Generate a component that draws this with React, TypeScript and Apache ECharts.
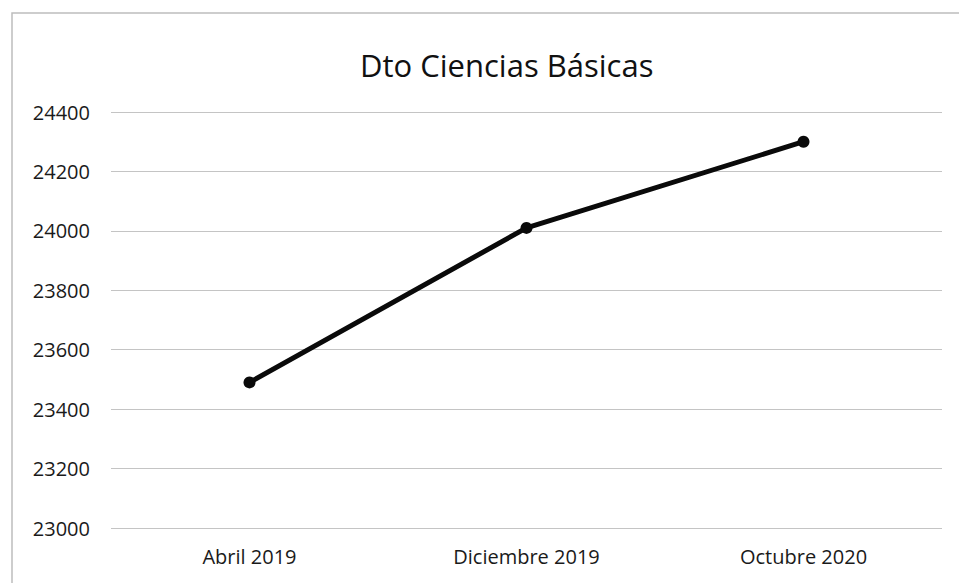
import React, { useEffect, useRef } from "react";
import * as echarts from "echarts";

const categories = ["Abril 2019", "Diciembre 2019", "Octubre 2020"];
const values = [23490, 24010, 24300];
const titleText = "Dto Ciencias Básicas";
const yMin = 23000;
const yMax = 24400;
const yStep = 200;

export default function App() {
  const ref = useRef<HTMLDivElement>(null);
  useEffect(() => {
    if (!ref.current) return;
    const chart = echarts.init(ref.current, null, { renderer: "svg" });
    chart.setOption({
      animation: false,
      backgroundColor: "#ffffff",
      title: {
        text: titleText,
        left: 355,
        top: 44,
        textStyle: {
          fontFamily: "Open Sans",
          fontSize: 31,
          fontWeight: "normal",
          color: "#111",
        },
      },
      graphic: [
        {
          type: "rect",
          shape: { x: 12, y: 13, width: 960, height: 600 },
          style: { fill: "none", stroke: "#bdbdbd", lineWidth: 1.5 },
          silent: true,
        },
      ],
      grid: { left: 111, right: 17, top: 112, bottom: 55 },
      xAxis: {
        type: "category",
        data: categories,
        boundaryGap: true,
        axisLine: { show: false },
        axisTick: { show: false },
        axisLabel: {
          fontFamily: "Open Sans",
          fontSize: 20,
          color: "#1a1a1a",
          margin: 18,
        },
      },
      yAxis: {
        type: "value",
        min: yMin,
        max: yMax,
        interval: yStep,
        axisLine: { show: false },
        axisTick: { show: false },
        axisLabel: {
          fontFamily: "Open Sans",
          fontSize: 20,
          color: "#1a1a1a",
          margin: 21,
          formatter: (v: number) => String(v),
        },
        splitLine: { lineStyle: { color: "#c4c4c4", width: 1.2 } },
      },
      series: [
        {
          type: "line",
          data: values,
          symbol: "circle",
          symbolSize: 12,
          lineStyle: { color: "#0a0a0a", width: 5 },
          itemStyle: { color: "#0a0a0a" },
        },
      ],
    });
    return () => chart.dispose();
  }, []);
  return <div ref={ref} style={{ width: 959, height: 583, position: "absolute", left: 0, top: 0 }} />;
}
